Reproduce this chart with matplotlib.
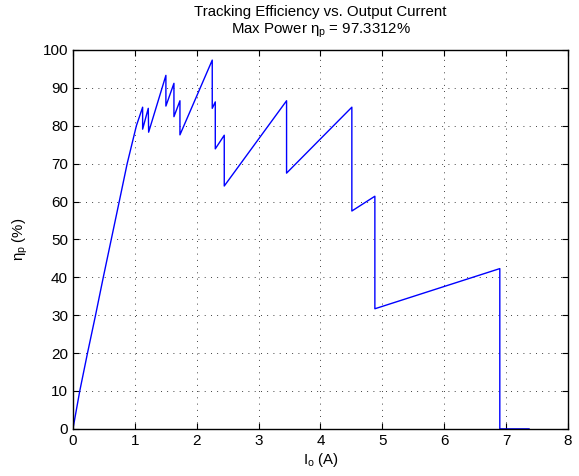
import matplotlib

matplotlib.use("Agg")
import matplotlib.pyplot as plt

plt.rcParams["font.family"] = ["Liberation Sans", "DejaVu Sans"]
plt.rcParams["mathtext.fontset"] = "custom"
plt.rcParams["mathtext.rm"] = "Liberation Sans"
plt.rcParams["mathtext.it"] = "Liberation Sans"
plt.rcParams["mathtext.sf"] = "Liberation Sans"

# output current (A) and tracking efficiency (%)
io = [0.0, 0.110, 0.235, 0.365, 0.490, 0.619, 0.748, 0.876, 1.025, 1.126,
      1.126, 1.217, 1.223, 1.502, 1.502, 1.632, 1.632, 1.729, 1.729, 2.251,
      2.251, 2.300, 2.300, 2.445, 2.445, 3.452, 3.452, 4.507, 4.507, 4.879,
      4.879, 6.898, 6.898, 7.37]
eta = [0.0, 10.0, 20.0, 30.0, 40.0, 50.0, 60.0, 70.0, 80.0, 84.9,
       79.1, 84.6, 78.3, 93.3, 85.2, 91.2, 82.4, 86.6, 77.6, 97.33,
       84.6, 86.3, 73.9, 77.5, 64.1, 86.6, 67.5, 84.9, 57.5, 61.4,
       31.7, 42.3, 0.0, 0.0]
max_eta = 97.3312

fig = plt.figure(figsize=(5.79, 4.76), dpi=100)
ax = fig.add_axes([0.126, 0.099, 0.855, 0.796])
ax.plot(io, eta, color="blue", lw=1.0)

ax.set_xlim(0, 8)
ax.set_ylim(0, 100)
ax.set_xticks(range(0, 9))
ax.set_yticks(range(0, 101, 10))
ax.tick_params(direction="in", top=True, right=True, labelsize=11, length=4)
ax.grid(True, color="black", ls=(0, (1, 6.5)), lw=0.6)
for s in ax.spines.values():
    s.set_linewidth(1.0)

ax.set_title("Tracking Efficiency vs. Output Current\n"
             rf"Max Power $\eta_p$ = {max_eta}%", fontsize=10.8,
             linespacing=1.2, pad=12)
ax.set_xlabel(r"$\mathregular{I_o}$ (A)", fontsize=10.8, labelpad=2)
ax.set_ylabel(r"$\eta_p$ (%)", fontsize=10.8, labelpad=9)

fig.savefig("out.png", dpi=100)
